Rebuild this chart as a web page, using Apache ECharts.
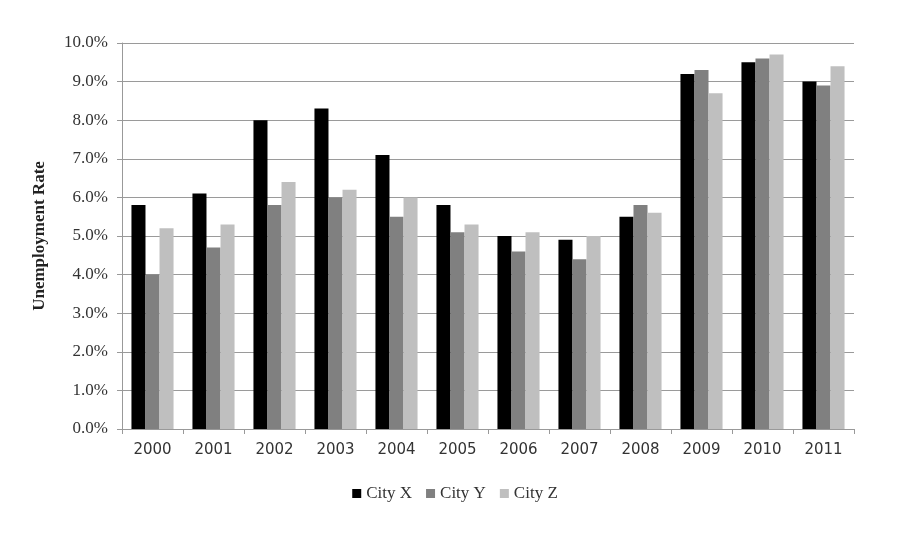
<!DOCTYPE html>
<html>
<head>
<meta charset="utf-8">
<script src="https://cdn.jsdelivr.net/npm/echarts@6/dist/echarts.min.js"></script>
<style>
  html, body { margin: 0; padding: 0; background: #fff; }
  #chart { width: 910px; height: 535px; }
</style>
</head>
<body>
<div id="chart"></div>
<script>
var years = ["2000", "2001", "2002", "2003", "2004", "2005", "2006", "2007", "2008", "2009", "2010", "2011"];
var cityX = [5.8, 6.1, 8.0, 8.3, 7.1, 5.8, 5.0, 4.9, 5.5, 9.2, 9.5, 9.0];
var cityY = [4.0, 4.7, 5.8, 6.0, 5.5, 5.1, 4.6, 4.4, 5.8, 9.3, 9.6, 8.9];
var cityZ = [5.2, 5.3, 6.4, 6.2, 6.0, 5.3, 5.1, 5.0, 5.6, 8.7, 9.7, 9.4];

var serif = "Liberation Serif";
var myChart = echarts.init(document.getElementById("chart"));
var option = {
  animation: false,
  grid: {
    left: 122,
    right: 56,
    top: 43,
    bottom: 106,
  },
  legend: {
    top: 480,
    left: "center",
    itemWidth: 9,
    itemHeight: 9,
    itemGap: 14,
    itemTextGap: 3,
    icon: "rect",
    textStyle: { fontFamily: serif, fontSize: 17, color: "#333" },
    data: ["City X", "City Y", "City Z"],
  },
  xAxis: {
    type: "category",
    data: years,
    axisLine: { lineStyle: { color: "#999" } },
    axisTick: { show: true, length: 5, lineStyle: { color: "#999" } },
    axisLabel: { fontFamily: "DejaVu Sans", fontSize: 15, color: "#333", margin: 14 },
  },
  yAxis: {
    type: "value",
    min: 0,
    max: 10,
    interval: 1,
    name: "Unemployment Rate",
    nameLocation: "middle",
    nameGap: 74,
    nameRotate: 90,
    nameTextStyle: { fontFamily: serif, fontSize: 17, fontWeight: "bold", color: "#222" },
    axisLine: { show: true, lineStyle: { color: "#999" } },
    axisTick: { show: true, length: 5, lineStyle: { color: "#999" } },
    axisLabel: {
      fontFamily: serif,
      fontSize: 17,
      color: "#333",
      margin: 14,
      formatter: function (v) { return v.toFixed(1) + "%"; },
    },
    splitLine: { show: true, lineStyle: { color: "#9a9a9a", width: 1 } },
  },
  series: [
    { name: "City X", type: "bar", data: cityX, barGap: 0, barCategoryGap: "31%", itemStyle: { color: "#000000" } },
    { name: "City Y", type: "bar", data: cityY, barGap: 0, barCategoryGap: "31%", itemStyle: { color: "#808080" } },
    { name: "City Z", type: "bar", data: cityZ, barGap: 0, barCategoryGap: "31%", itemStyle: { color: "#bfbfbf" } },
  ],
};
myChart.setOption(option);
</script>
</body>
</html>
